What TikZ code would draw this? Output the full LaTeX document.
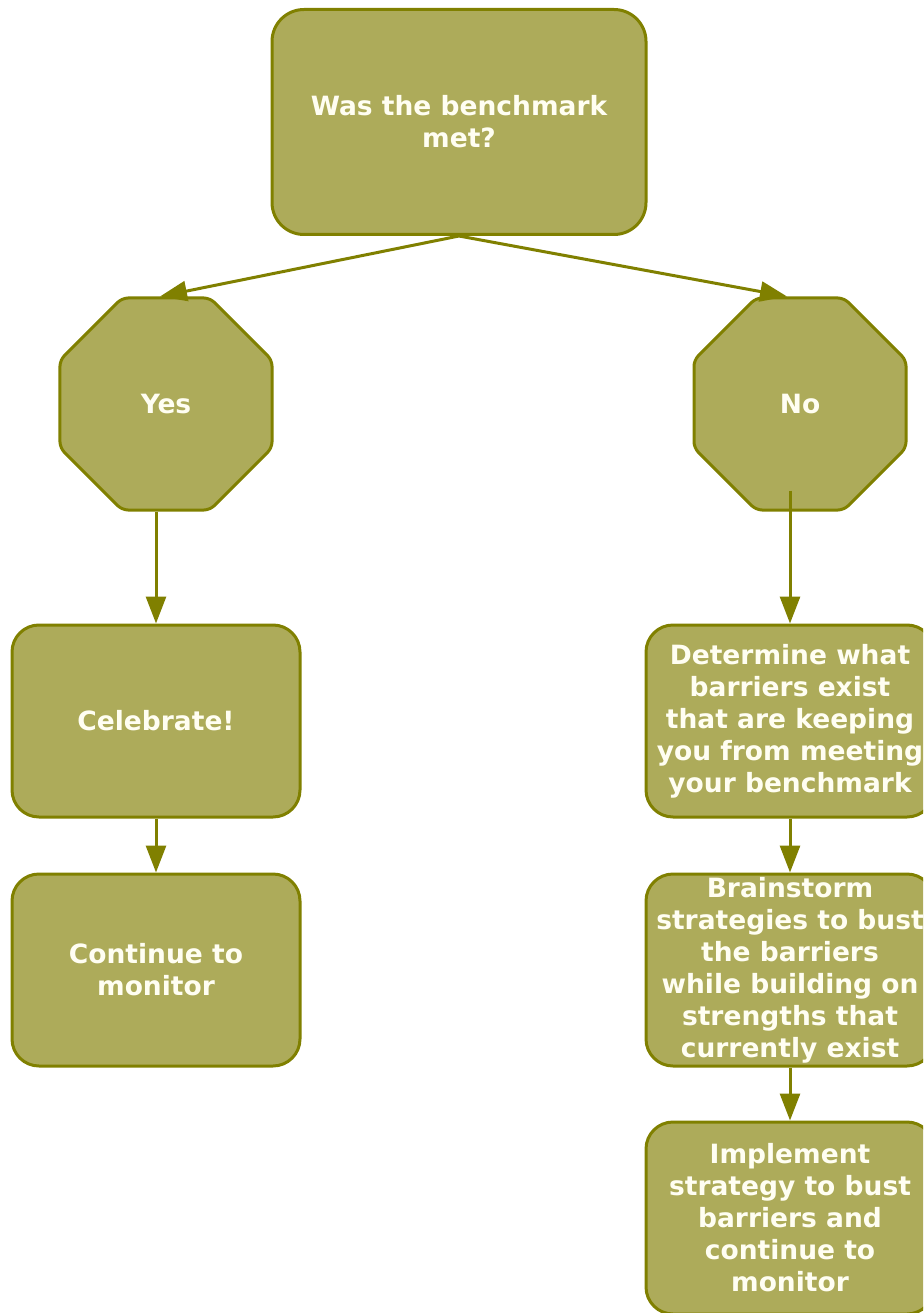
\documentclass[tikz,border=0pt]{standalone}
\usepackage{fontspec}
\setmainfont{DejaVu Sans}
\usetikzlibrary{shapes.geometric,arrows.meta}
\definecolor{olivefill}{HTML}{ADAB5A}
\definecolor{oliveline}{HTML}{808000}
\definecolor{txtcol}{HTML}{FFFEF2}
\tikzset{
  lbl/.style={align=center, text=txtcol, font=\fontsize{26.5}{32}\selectfont\bfseries},
  box/.style={lbl, draw=oliveline, fill=olivefill, line width=3pt, rounded corners=27pt,
    minimum width=288pt, minimum height=192pt, inner sep=0pt},
  topbox/.style={box, minimum width=374pt, minimum height=225pt, rounded corners=32pt},
  oct/.style={lbl, regular polygon, regular polygon sides=8, minimum size=229.5pt, inner sep=0pt,
    draw=oliveline, fill=olivefill, line width=3pt, rounded corners=6pt},
  conn/.style={draw=oliveline, line width=3pt, -{Triangle[width=20pt,length=27pt]}}
}
\begin{document}
\begin{tikzpicture}[x=1pt,y=-1pt]
\useasboundingbox (0,0) rectangle (923,1313);
\clip (0,0) rectangle (923,1313);
\fill[white] (0,0) rectangle (923,1313);
\node[topbox] (top) at (459,122) {Was the benchmark\\met?};
\node[oct] (yes) at (166,404) {Yes};
\node[oct] (no) at (800,404) {No};
\node[box] (cel) at (156,721) {Celebrate!};
\node[box] (cont) at (156,970) {Continue to\\monitor};
\node[box] (det) at (790,721) {Determine what\\barriers exist\\that are keeping\\you from meeting\\your benchmark};
\node[box] (brain) at (790,970) {Brainstorm\\strategies to bust\\the barriers\\while building on\\strengths that\\currently exist};
\node[box] (impl) at (790,1218) {Implement\\strategy to bust\\barriers and\\continue to\\monitor};
\draw[conn] (top.south) -- ([xshift=-6pt]yes.north);
\draw[conn] (top.south) -- ([xshift=-13pt]no.north);
\draw[conn] (yes.south -| cel.north) -- (cel.north);
\draw[conn] ([yshift=21pt]no.south -| det.north) -- (det.north);
\draw[conn] (cel.south) -- (cont.north);
\draw[conn] (det.south) -- (brain.north);
\draw[conn] (brain.south) -- (impl.north);
\end{tikzpicture}
\end{document}
